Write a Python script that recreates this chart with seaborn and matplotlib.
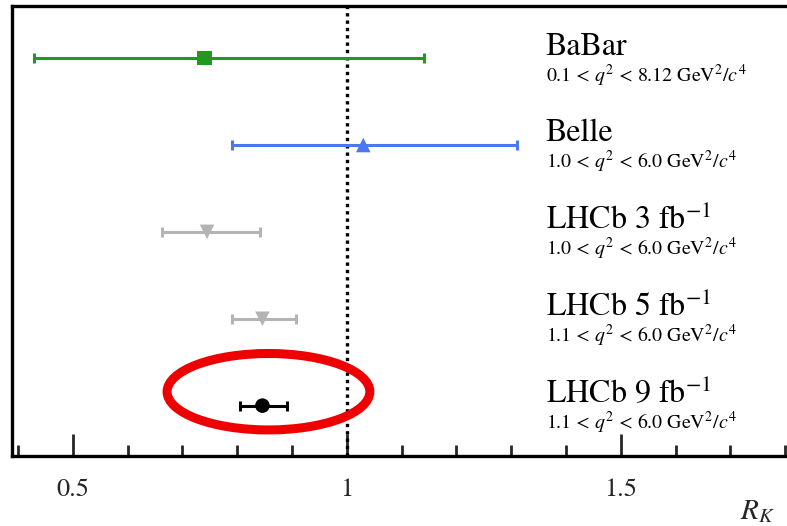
import matplotlib
matplotlib.use("Agg")
import matplotlib.pyplot as plt
from matplotlib.patches import Ellipse
from matplotlib.ticker import MultipleLocator, FixedLocator, FixedFormatter
import seaborn as sns
import pandas as pd

# ---- data ----
experiments = ["BaBar", "Belle", r"LHCb 3 fb$^{\mathregular{-1}}$",
               r"LHCb 5 fb$^{\mathregular{-1}}$", r"LHCb 9 fb$^{\mathregular{-1}}$"]
q2_ranges = [r"0.1 < $q^2$ < 8.12 GeV$^2$/$c^4$",
             r"1.0 < $q^2$ < 6.0 GeV$^2$/$c^4$",
             r"1.0 < $q^2$ < 6.0 GeV$^2$/$c^4$",
             r"1.1 < $q^2$ < 6.0 GeV$^2$/$c^4$",
             r"1.1 < $q^2$ < 6.0 GeV$^2$/$c^4$"]
rk_values = [0.74, 1.03, 0.745, 0.846, 0.846]
err_low = [0.31, 0.24, 0.082, 0.056, 0.041]
err_high = [0.40, 0.28, 0.097, 0.062, 0.044]
colors = ["#1f9a1f", "#4a78f0", "#b4b4b4", "#b4b4b4", "#000000"]
markers = ["s", "^", "v", "v", "o"]
xtick_values = [0.5, 1.0, 1.5]
xtick_labels = ["0.5", "1", "1.5"]

sns.set_theme(style="ticks")
plt.rcParams["font.family"] = ["STIXGeneral", "DejaVu Serif"]
plt.rcParams["mathtext.fontset"] = "stix"

fig = plt.figure(figsize=(7.87, 5.26), dpi=100)
ax = fig.add_axes([12 / 787, 1 - 456 / 526, 1 - 12 / 787 + 0.01, (456 - 6) / 526])

df = pd.DataFrame({"exp": experiments, "rk": rk_values,
                   "pos": list(range(len(experiments)))})

for i in range(len(experiments)):
    ax.errorbar(rk_values[i], i, xerr=[[err_low[i]], [err_high[i]]],
                fmt="none", ecolor=colors[i], elinewidth=2.2, capsize=3.5,
                capthick=2.2, zorder=3)

sns.scatterplot(data=df, x="rk", y="pos", hue="exp", style="exp",
                palette=dict(zip(experiments, colors)),
                markers=dict(zip(experiments, markers)),
                s=110, edgecolor="none", legend=False, ax=ax, zorder=4)

ax.axvline(1.0, color="black", linestyle=(0, (1, 1.2)), linewidth=2.4, zorder=2)

ax.set_xlim(0.389, 1.8176)
ax.set_ylim(4.58, -0.6)

for i in range(len(experiments)):
    ax.text(1.363, i - 0.13, experiments[i], fontsize=23, ha="left",
            va="center", color="black")
    ax.text(1.363, i + 0.2, q2_ranges[i], fontsize=14.3, ha="left",
            va="center", color="black")

ell = Ellipse((0.857, 3.84), width=0.37, height=0.88, fill=False,
              edgecolor="#ee0000", linewidth=6.5, zorder=5)
ax.add_patch(ell)

ax.xaxis.set_major_locator(FixedLocator(xtick_values))
ax.xaxis.set_major_formatter(FixedFormatter(xtick_labels))
ax.xaxis.set_minor_locator(MultipleLocator(0.1))
ax.tick_params(axis="x", which="major", direction="in", length=16, width=2,
               labelsize=19, pad=16, top=False)
ax.tick_params(axis="x", which="minor", direction="in", length=8, width=2,
               top=False)
ax.set_yticks([])
ax.set_xlabel("")
ax.set_ylabel("")

for side in ["left", "top", "bottom"]:
    ax.spines[side].set_linewidth(2.4)
    ax.spines[side].set_color("black")
ax.spines["right"].set_visible(False)

fig.text(775 / 787, 1 - 512 / 526, r"$R_K$", fontsize=21, ha="right",
         va="center")

fig.savefig("out.png", dpi=100)
